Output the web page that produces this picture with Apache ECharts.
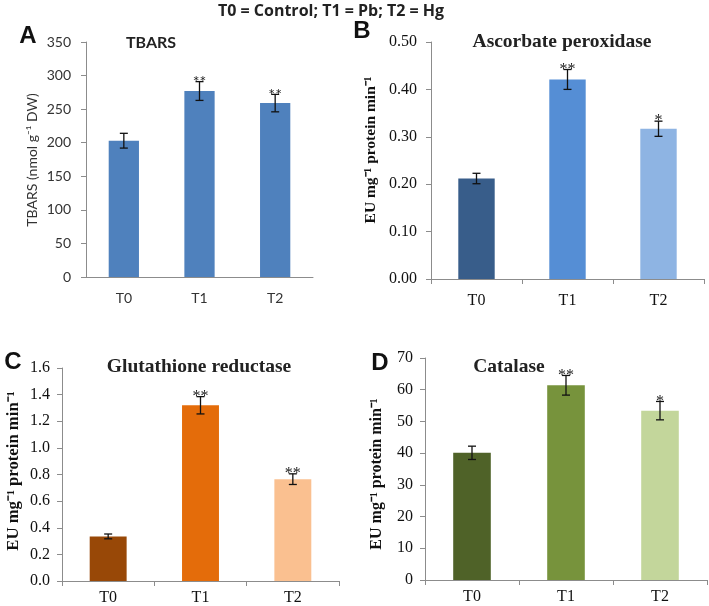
<!DOCTYPE html>
<html>
<head>
<meta charset="utf-8">
<script src="https://cdn.jsdelivr.net/npm/echarts@6/dist/echarts.min.js"></script>
<style>html,body{margin:0;padding:0;background:#fff;}#chart{width:709px;height:606px;}</style>
</head>
<body>
<div id="chart"></div>
<script>
const categories = ['T0', 'T1', 'T2'];

const tbarsValues = [203, 277, 259];
const tbarsErrors = [11, 14, 13];
const tbarsSig = ['', '**', '**'];

const apxValues = [0.212, 0.421, 0.317];
const apxErrors = [0.011, 0.021, 0.016];
const apxSig = ['', '**', '*'];

const grValues = [0.335, 1.32, 0.765];
const grErrors = [0.018, 0.065, 0.04];
const grSig = ['', '**', '**'];

const catValues = [40.1, 61.4, 53.4];
const catErrors = [2.1, 3.1, 2.9];
const catSig = ['', '**', '*'];

const panelTitles = ['TBARS', 'Ascorbate peroxidase', 'Glutathione reductase', 'Catalase'];
const panelLetters = ['A', 'B', 'C', 'D'];
const yNames = ['TBARS (nmol g\u207B\u00B9 DW)', 'EU mg\u207B\u00B9 protein min\u207B\u00B9', 'EU mg\u207B\u00B9 protein min\u207B\u00B9', 'EU mg\u207B\u00B9 protein min\u207B\u00B9'];
const headerText = 'T0 = Control; T1 = Pb; T2 = Hg';

const colorsA = ['#4f81bd', '#4f81bd', '#4f81bd'];
const colorsB = ['#385d8a', '#558ed5', '#8eb4e3'];
const colorsC = ['#984807', '#e46c0a', '#fac090'];
const colorsD = ['#4f6228', '#77933c', '#c3d69b'];

const SANS = 'Lato, "Liberation Sans", sans-serif';
const SERIF = '"Liberation Serif", "Times New Roman", serif';

const chart = echarts.init(document.getElementById('chart'));

const grids = [
  {left: 86, top: 42, width: 227, height: 235},
  {left: 431, top: 42, width: 273, height: 237},
  {left: 62, top: 368, width: 277, height: 213},
  {left: 425, top: 358, width: 282, height: 222}
];
const yRanges = [
  {min: 0, max: 350, interval: 50, fmt: v => String(v)},
  {min: 0, max: 0.5, interval: 0.1, fmt: v => v.toFixed(2)},
  {min: 0, max: 1.6, interval: 0.2, fmt: v => v.toFixed(1)},
  {min: 0, max: 70, interval: 10, fmt: v => String(v)}
];
const fonts = [SANS, SERIF, SERIF, SERIF];
const tickFont = [14, 16, 16, 16];
const yMargins = [15, 14, 12, 12];
const xMargins = [14, 14, 9, 9];
const values = [tbarsValues, apxValues, grValues, catValues];
const errors = [tbarsErrors, apxErrors, grErrors, catErrors];
const sigs = [tbarsSig, apxSig, grSig, catSig];
const colors = [colorsA, colorsB, colorsC, colorsD];

const axisColor = '#8c8c8c';
const labelColor = ['#333', '#111', '#111', '#111'];

const xAxes = grids.map((g, i) => ({
  type: 'category', gridIndex: i, data: categories,
  axisLine: {lineStyle: {color: axisColor, width: 1}},
  axisTick: {show: i !== 0, length: 5, lineStyle: {color: axisColor}},
  axisLabel: {fontFamily: fonts[i], fontSize: tickFont[i], color: labelColor[i], margin: xMargins[i]}
}));
const yAxes = grids.map((g, i) => ({
  type: 'value', gridIndex: i, min: yRanges[i].min, max: yRanges[i].max, interval: yRanges[i].interval,
  axisLine: {show: true, lineStyle: {color: axisColor, width: 1}},
  axisTick: {show: true, length: 5, lineStyle: {color: axisColor}},
  splitLine: {show: false},
  axisLabel: {fontFamily: fonts[i], fontSize: tickFont[i], color: labelColor[i], margin: yMargins[i], formatter: yRanges[i].fmt}
}));

function errRender(i) {
  return function (params, api) {
    const idx = params.dataIndex;
    const x = api.value(0), v = api.value(1), e = api.value(2);
    const top = api.coord([x, v + e]);
    const bot = api.coord([x, v - e]);
    const hw = 4;
    const style = {stroke: '#111', lineWidth: 1.3};
    const children = [
      {type: 'line', shape: {x1: top[0], y1: top[1], x2: bot[0], y2: bot[1]}, style: style},
      {type: 'line', shape: {x1: top[0] - hw, y1: top[1], x2: top[0] + hw, y2: top[1]}, style: style},
      {type: 'line', shape: {x1: bot[0] - hw, y1: bot[1], x2: bot[0] + hw, y2: bot[1]}, style: style}
    ];
    const s = sigs[i][idx];
    if (s) {
      children.push({type: 'text', x: top[0], y: top[1] + 8, style: {text: s, fill: '#222', font: '16px ' + fonts[i], align: 'center', verticalAlign: 'bottom'}});
    }
    return {type: 'group', children: children};
  };
}

const series = [];
grids.forEach((g, i) => {
  series.push({
    type: 'bar', xAxisIndex: i, yAxisIndex: i, barWidth: '40%',
    data: values[i].map((v, k) => ({value: v, itemStyle: {color: colors[i][k]}})),
    silent: true
  });
  series.push({
    type: 'custom', xAxisIndex: i, yAxisIndex: i, renderItem: errRender(i),
    data: values[i].map((v, k) => [k, v, errors[i][k]]), z: 5, silent: true
  });
});

const titlePos = [[151, 43], [562, 42], [199, 367], [509, 367]];
const letterPos = [[28, 36], [362, 31], [13, 362], [380, 363]];
const yNamePos = [[32, 160], [371, 150], [14, 471], [377, 474]];
const yNameFont = ['14px ' + SANS, 'bold 15.5px ' + SERIF, 'bold 16.7px ' + SERIF, 'bold 16px ' + SERIF];
const graphic = [
  {type: 'text', x: 331, y: 11, style: {text: headerText, font: 'bold 16px "Open Sans", sans-serif', fill: '#222', align: 'center', verticalAlign: 'middle'}}
];
panelTitles.forEach((t, i) => {
  graphic.push({type: 'text', x: titlePos[i][0], y: titlePos[i][1], style: {text: t, font: i === 0 ? 'bold 16px ' + SANS : 'bold 19.5px ' + SERIF, fill: '#222', align: 'center', verticalAlign: 'middle'}});
  graphic.push({type: 'text', x: letterPos[i][0], y: letterPos[i][1], style: {text: panelLetters[i], font: 'bold 24px "Liberation Sans", Arial, sans-serif', fill: '#111', align: 'center', verticalAlign: 'middle'}});
  graphic.push({type: 'text', x: yNamePos[i][0], y: yNamePos[i][1], rotation: Math.PI / 2, style: {text: yNames[i], font: yNameFont[i], fill: labelColor[i], align: 'center', verticalAlign: 'middle'}});
});

chart.setOption({
  animation: false,
  grid: grids,
  xAxis: xAxes,
  yAxis: yAxes,
  series: series,
  graphic: graphic
});
</script>
</body>
</html>
